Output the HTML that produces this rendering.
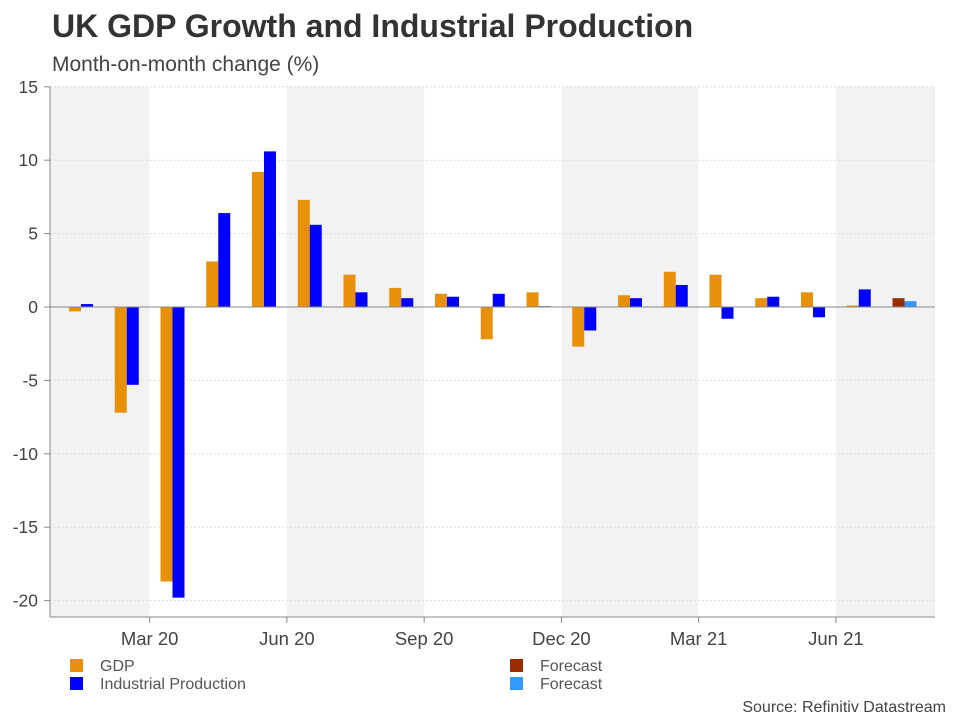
<!DOCTYPE html>
<html><head><meta charset="utf-8"><style>
body{margin:0;background:#fff;font-family:"Liberation Sans",Arial,sans-serif;}
svg text{font-family:"Liberation Sans",Arial,sans-serif;}
</style></head><body>
<svg id="chart" width="960" height="720" xmlns="http://www.w3.org/2000/svg">
<text x="52" y="37" font-size="32" font-weight="bold" fill="#333">UK GDP Growth and Industrial Production</text>
<text x="52" y="71" font-size="21" fill="#444">Month-on-month change (%)</text>
<g id="bands"></g><g id="grid"></g><g id="bars"></g><g id="axes"></g>
<g>
<rect x="70" y="659" width="13" height="13" fill="#E8900A"/>
<text x="100" y="671" font-size="16" fill="#555">GDP</text>
<rect x="70" y="677" width="13" height="13" fill="#0000FF"/>
<text x="100" y="689" font-size="16" fill="#555">Industrial Production</text>
<rect x="510" y="659" width="13" height="13" fill="#9B2C00"/>
<text x="540" y="671" font-size="16" fill="#555">Forecast</text>
<rect x="510" y="677" width="13" height="13" fill="#3399FF"/>
<text x="540" y="689" font-size="16" fill="#555">Forecast</text>
</g>
<text x="946" y="712" font-size="16" fill="#444" text-anchor="end">Source: Refinitiv Datastream</text>
</svg>
<script>
const gdp=[-0.3,-7.2,-18.7,3.1,9.2,7.3,2.2,1.3,0.9,-2.2,1.0,-2.7,0.8,2.4,2.2,0.6,1.0,0.1,0.6];
const ip=[0.2,-5.3,-19.8,6.4,10.6,5.6,1.0,0.6,0.7,0.9,0.05,-1.6,0.6,1.5,-0.8,0.7,-0.7,1.2,0.4];
const forecastIndex=[18];
const yTicks=[15,10,5,0,-5,-10,-15,-20];
const xTickLabels=["Mar 20","Jun 20","Sep 20","Dec 20","Mar 21","Jun 21"];
const xTickMonths=[2,5,8,11,14,17];

const NS="http://www.w3.org/2000/svg";
const L=50,R=935,T=87,B=617;
const y=v=>307-v*14.68;
const xc=i=>81+45.75*i;
const xb=i=>xc(i)-22.85;
function mk(tag,attrs,parent){const e=document.createElementNS(NS,tag);for(const k in attrs)e.setAttribute(k,attrs[k]);document.getElementById(parent).appendChild(e);return e;}
const bandEdges=[L,xb(2),xb(5),xb(8),xb(11),xb(14),xb(17),R];
for(let k=0;k<bandEdges.length-1;k++){
  const r=mk('rect',{x:bandEdges[k],y:T,width:bandEdges[k+1]-bandEdges[k],height:B-T,fill:k%2===0?'#f2f2f2':'#ffffff'},'bands');
  
  
}
yTicks.forEach(v=>{
  if(v!==0){const g=mk('line',{x1:L,x2:R,y1:y(v),y2:y(v),stroke:'#ddd','stroke-dasharray':'2,2'},'grid');
  
  }
  const t=mk('text',{x:38,y:y(v)+6,'font-size':17.5,fill:'#444','text-anchor':'end'},'axes');
  t.textContent=v;
  
  
  const tk=mk('line',{x1:44,x2:L,y1:y(v),y2:y(v),stroke:'#888'},'axes');
  
  
});
gdp.forEach((v,i)=>{
  const f=forecastIndex.includes(i);
  const r=mk('rect',{x:xc(i)-12,y:Math.min(y(v),y(0)),width:12,height:Math.max(1,Math.abs(y(v)-y(0))),fill:f?'#9B2C00':'#E8900A'},'bars');
  
  
});
ip.forEach((v,i)=>{
  const f=forecastIndex.includes(i);
  const r=mk('rect',{x:xc(i),y:Math.min(y(v),y(0)),width:12,height:Math.max(1,Math.abs(y(v)-y(0))),fill:f?'#3399FF':'#0000FF'},'bars');
  
  
});
let a=mk('line',{x1:L,x2:R,y1:y(0),y2:y(0),stroke:'#888'},'axes');


a=mk('line',{x1:L,x2:R,y1:B,y2:B,stroke:'#888'},'axes');


a=mk('line',{x1:L,x2:L,y1:T,y2:B,stroke:'#888'},'axes');


xTickMonths.forEach((m,k)=>{
  const tk=mk('line',{x1:xb(m),x2:xb(m),y1:B,y2:B+6,stroke:'#888'},'axes');
  
  
  const t=mk('text',{x:xb(m),y:B+28,'font-size':18.5,fill:'#444','text-anchor':'middle'},'axes');
  t.textContent=xTickLabels[k];
  
  
});
</script>
</body></html>
